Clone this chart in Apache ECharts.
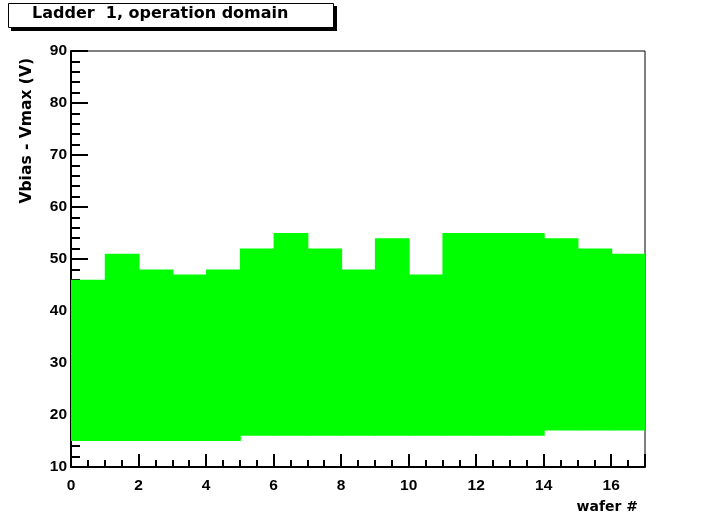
<!DOCTYPE html>
<html>
<head>
<meta charset="utf-8">
<script src="https://cdn.jsdelivr.net/npm/echarts@6/dist/echarts.min.js"></script>
<style>html,body{margin:0;padding:0;background:#fff}#c{width:717px;height:519px}</style>
</head>
<body>
<div id="c"></div>
<script>
const wafers = [0,1,2,3,4,5,6,7,8,9,10,11,12,13,14,15,16];
const vLow  = [15,15,15,15,15,16,16,16,16,16,16,16,16,16,17,17,17];
const vHigh = [46,51,48,47,48,52,55,52,48,54,47,55,55,55,54,52,51];
const titleText = 'Ladder  1, operation domain';
const xTitle = 'wafer #';
const yTitle = 'Vbias - Vmax (V)';

const FONT = '"DejaVu Sans", "Liberation Sans", Arial, sans-serif';
const LFONT = '"Liberation Sans", Arial, Helvetica, sans-serif';
const chart = echarts.init(document.getElementById('c'), null, {renderer:'canvas'});
const data = wafers.map((w,i)=>[w, vLow[i], vHigh[i]]);
const lastW = wafers[wafers.length-1];

chart.setOption({
  animation:false,
  backgroundColor:'#fff',
  grid:{left:71, right:72, top:51, bottom:52, show:true, borderColor:'#000', borderWidth:1, backgroundColor:'transparent'},
  xAxis:{
    type:'value', min:0, max:17, interval:2,
    name:xTitle, nameLocation:'end', nameGap:0,
    nameTextStyle:{fontFamily:FONT, fontWeight:'bold', fontSize:14, color:'#000', align:'right', verticalAlign:'top', padding:[33,7,0,0]},
    axisLine:{show:true, lineStyle:{color:'#000', width:2}},
    axisTick:{show:true, inside:true, length:13, lineStyle:{color:'#000', width:2}},
    minorTick:{show:true, splitNumber:4, length:7, lineStyle:{color:'#000', width:2}},
    axisLabel:{fontFamily:LFONT, fontWeight:'bold', fontSize:15.5, color:'#000', margin:11, showMaxLabel:false},
    splitLine:{show:false}, minorSplitLine:{show:false}
  },
  yAxis:{
    type:'value', min:10, max:90, interval:10,
    name:yTitle, nameLocation:'end', nameRotate:90, nameGap:0,
    nameTextStyle:{fontFamily:FONT, fontWeight:'bold', fontSize:15.5, color:'#000', align:'right', verticalAlign:'bottom', padding:[0,7,36,0]},
    axisLine:{show:true, lineStyle:{color:'#000', width:2}},
    axisTick:{show:true, inside:true, length:17, lineStyle:{color:'#000', width:2}},
    minorTick:{show:true, splitNumber:5, length:9, lineStyle:{color:'#000', width:2}},
    axisLabel:{fontFamily:LFONT, fontWeight:'bold', fontSize:15.5, color:'#000', margin:4},
    splitLine:{show:false}, minorSplitLine:{show:false}
  },
  series:[{
    type:'custom',
    data:data,
    encode:{x:0, y:[1,2]},
    z:1,
    renderItem:function(params, api){
      const x = api.value(0);
      const p0 = api.coord([x, api.value(1)]);
      const p1 = api.coord([x+1, api.value(2)]);
      const extra = x < lastW ? 1 : 0;
      return {type:'rect', shape:{x:p0[0], y:p1[1], width:p1[0]-p0[0]+extra, height:p0[1]-p1[1]}, style:{fill:'#00ff00'}};
    }
  }],
  graphic:[
    {type:'rect', shape:{x:11, y:6, width:326, height:25}, style:{fill:'#000'}, z:10},
    {type:'rect', shape:{x:8.5, y:3.5, width:325, height:24}, style:{fill:'#fff', stroke:'#000', lineWidth:1}, z:11},
    {type:'text', x:32, y:14, style:{text:titleText, font:'bold 16px '+FONT, fill:'#000', verticalAlign:'middle'}, z:12}
  ]
});
</script>
</body>
</html>
